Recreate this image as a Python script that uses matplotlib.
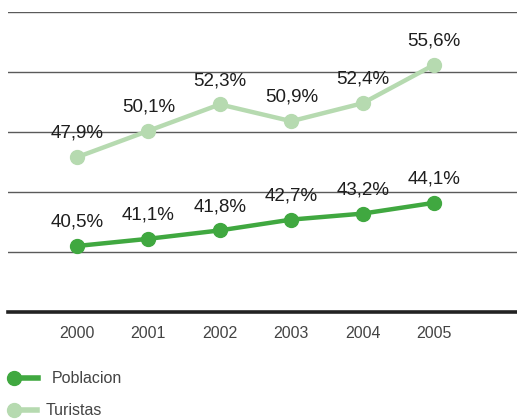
import matplotlib.pyplot as plt
from matplotlib.lines import Line2D

plt.rcParams['font.family'] = ['Liberation Sans', 'DejaVu Sans']

years = [2000, 2001, 2002, 2003, 2004, 2005]
poblacion = [40.5, 41.1, 41.8, 42.7, 43.2, 44.1]
turistas = [47.9, 50.1, 52.3, 50.9, 52.4, 55.6]
pob_labels = ["40,5%", "41,1%", "41,8%", "42,7%", "43,2%", "44,1%"]
tur_labels = ["47,9%", "50,1%", "52,3%", "50,9%", "52,4%", "55,6%"]

dark = "#40a840"
light = "#b6dab0"

fig = plt.figure(figsize=(5.17, 4.19), dpi=100)
ax = fig.add_axes([8 / 517, 1 - 312 / 419, 509 / 517, 300 / 419])

ax.plot(years, turistas, color=light, lw=3.2, marker="o", ms=10, zorder=3, clip_on=False)
ax.plot(years, poblacion, color=dark, lw=3.2, marker="o", ms=10, zorder=3, clip_on=False)

for x, y, t in zip(years, turistas, tur_labels):
    ax.annotate(t, (x, y), xytext=(0, 11), textcoords="offset points",
                ha="center", va="bottom", fontsize=13.5, color="#1e1e1e")
for x, y, t in zip(years, poblacion, pob_labels):
    ax.annotate(t, (x, y), xytext=(0, 11), textcoords="offset points",
                ha="center", va="bottom", fontsize=13.5, color="#1e1e1e")

ax.set_xlim(1999.034, 2006.16)
ax.set_ylim(35, 60)
ax.set_yticks([40, 45, 50, 55, 60])
ax.yaxis.grid(True, color="#5a5a5a", lw=1)
ax.set_axisbelow(True)
ax.tick_params(axis="y", left=False, labelleft=False)
ax.set_xticks(years)
ax.set_xticklabels([str(y) for y in years], fontsize=11.5, color="#444444")
ax.tick_params(axis="x", length=0, pad=10)
for s in ["left", "right", "top"]:
    ax.spines[s].set_visible(False)
ax.spines["bottom"].set_linewidth(2.6)
ax.spines["bottom"].set_color("#222222")

# legend drawn by hand so the dot sits at the left end of the line
fig.add_artist(Line2D([14 / 517, 38 / 517], [1 - 378 / 419] * 2, color=dark, lw=4,
                      marker="o", ms=10, markevery=[0]))
fig.text(52 / 517, 1 - 378 / 419, "Poblacion", fontsize=11.5, color="#444444", va="center")
fig.add_artist(Line2D([14 / 517, 37 / 517], [1 - 410 / 419] * 2, color=light, lw=4,
                      marker="o", ms=10, markevery=[0]))
fig.text(46 / 517, 1 - 410 / 419, "Turistas", fontsize=11.5, color="#444444", va="center")

fig.savefig("out.png", dpi=100)
